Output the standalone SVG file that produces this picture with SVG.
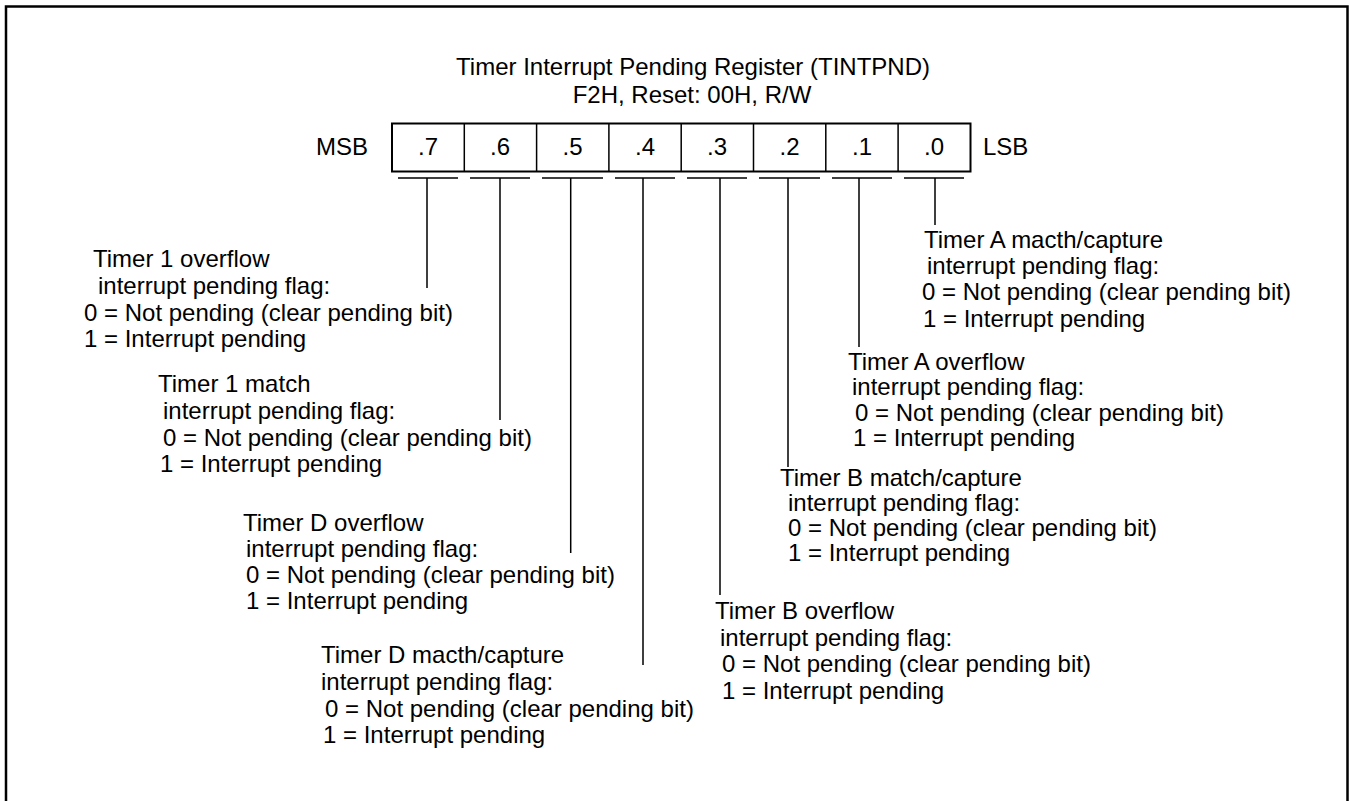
<svg xmlns="http://www.w3.org/2000/svg" width="1349" height="801" viewBox="0 0 1349 801">
<style>
text{font-family:"Liberation Sans",Arial,sans-serif;font-size:24px;fill:#000}
.c{text-anchor:middle}
.ln{stroke:#000;stroke-width:1.5;fill:none}
.bx{stroke:#000;stroke-width:2;fill:#fff}
</style>
<rect width="1349" height="801" fill="#fff"/>
<path d="M6,802 V6.5 H1347.5 V802" fill="none" stroke="#000" stroke-width="2.5"/>
<g id="title">
<text class="c" x="693" y="75">Timer Interrupt Pending Register (TINTPND)</text>
<text class="c" x="692" y="103">F2H, Reset: 00H, R/W</text>
</g>
<g id="register">
<text x="316" y="155">MSB</text>
<rect class="bx" x="392" y="123.5" width="578.5" height="48"/>
<path class="ln" d="M464.3,123.5V171.5M536.6,123.5V171.5M608.9,123.5V171.5M681.2,123.5V171.5M753.5,123.5V171.5M825.8,123.5V171.5M898.1,123.5V171.5" stroke-width="2"/>
<text class="c" x="428" y="155">.7</text>
<text class="c" x="500" y="155">.6</text>
<text class="c" x="572.5" y="155">.5</text>
<text class="c" x="645" y="155">.4</text>
<text class="c" x="717" y="155">.3</text>
<text class="c" x="789.5" y="155">.2</text>
<text class="c" x="862" y="155">.1</text>
<text class="c" x="934" y="155">.0</text>
<text x="983" y="155">LSB</text>
</g>
<g id="connectors">
<path class="ln" d="M398,178H458M470,178H530M542,178H603M615,178H675M687,178H747M759,178H820M832,178H892M904,178H964"/>
<path class="ln" d="M427,178V288M500,178V420M570.7,178V553M643,178V665M720,178V595M788,178V467M859,178V347M935,178V225"/>
</g>
<g id="bit7">
<text x="93" y="267">Timer 1 overflow</text>
<text x="98" y="294">interrupt pending flag:</text>
<text x="84" y="321">0 = Not pending (clear pending bit)</text>
<text x="84" y="347">1 = Interrupt pending</text>
</g>
<g id="bit6">
<text x="158" y="392">Timer 1 match</text>
<text x="163" y="419">interrupt pending flag:</text>
<text x="163" y="446">0 = Not pending (clear pending bit)</text>
<text x="160" y="472">1 = Interrupt pending</text>
</g>
<g id="bit5">
<text x="243" y="531">Timer D overflow</text>
<text x="246" y="557">interrupt pending flag:</text>
<text x="246" y="583">0 = Not pending (clear pending bit)</text>
<text x="246" y="609">1 = Interrupt pending</text>
</g>
<g id="bit4">
<text x="321" y="663">Timer D macth/capture</text>
<text x="321" y="690">interrupt pending flag:</text>
<text x="325" y="717">0 = Not pending (clear pending bit)</text>
<text x="323" y="743">1 = Interrupt pending</text>
</g>
<g id="bit3">
<text x="715" y="619">Timer B overflow</text>
<text x="720" y="646">interrupt pending flag:</text>
<text x="722" y="672">0 = Not pending (clear pending bit)</text>
<text x="722" y="699">1 = Interrupt pending</text>
</g>
<g id="bit2">
<text x="780" y="486">Timer B match/capture</text>
<text x="788" y="511">interrupt pending flag:</text>
<text x="788" y="536">0 = Not pending (clear pending bit)</text>
<text x="788" y="561">1 = Interrupt pending</text>
</g>
<g id="bit1">
<text x="848" y="370">Timer A overflow</text>
<text x="852" y="395">interrupt pending flag:</text>
<text x="855" y="421">0 = Not pending (clear pending bit)</text>
<text x="853" y="446">1 = Interrupt pending</text>
</g>
<g id="bit0">
<text x="924" y="248">Timer A macth/capture</text>
<text x="927" y="274">interrupt pending flag:</text>
<text x="922" y="300">0 = Not pending (clear pending bit)</text>
<text x="923" y="327">1 = Interrupt pending</text>
</g>
</svg>
